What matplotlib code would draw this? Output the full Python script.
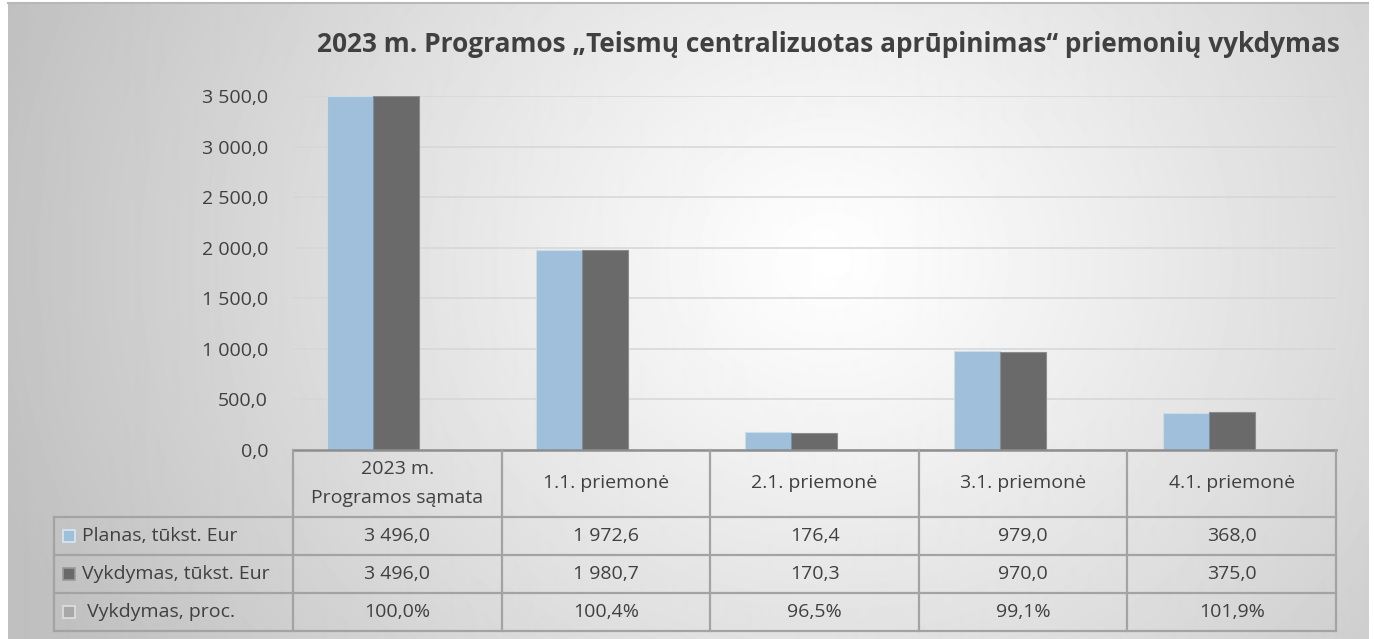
import numpy as np
import matplotlib
matplotlib.use('Agg')
import matplotlib.pyplot as plt

plt.rcParams['font.family'] = ['Open Sans', 'DejaVu Sans']

TITLE = '2023 m. Programos „Teismų centralizuotas aprūpinimas“ priemonių vykdymas'
CATEGORIES = ['2023 m.\nProgramos sąmata', '1.1. priemonė', '2.1. priemonė',
              '3.1. priemonė', '4.1. priemonė']
PLANAS = [3496.0, 1972.6, 176.4, 979.0, 368.0]
VYKDYMAS = [3496.0, 1980.7, 170.3, 970.0, 375.0]
PROC = ['100,0%', '100,4%', '96,5%', '99,1%', '101,9%']
ROW_LABELS = ['Planas, tūkst. Eur', 'Vykdymas, tūkst. Eur', ' Vykdymas, proc.']
Y_TICKS = [0, 500, 1000, 1500, 2000, 2500, 3000, 3500]

C_PLAN = '#9fbfda'
C_VYK = '#6a6a6a'
C_PROC = '#a8a8a8'
TXT = '#404040'
LINE = '#a3a3a3'
FS = 14

W, H = 1374, 639


def fmt(v):
    s = '{:,.1f}'.format(v)
    return s.replace(',', ' ').replace('.', ',')


fig = plt.figure(figsize=(W / 100, H / 100), dpi=100)
fig.patch.set_facecolor('white')

# background radial gradient of the chart area
bx0, by0, bx1, by1 = 8, 3, 1368, 639
bg = fig.add_axes([bx0 / W, 1 - by1 / H, (bx1 - bx0) / W, (by1 - by0) / H], zorder=0)
xx, yy = np.meshgrid(np.arange(bx0, bx1), np.arange(by0, by1))
d = np.hypot(xx - 830, (yy - 260) * 1.15) / 880.0
d = np.clip(d, 0, 1)
shade = 1.0 - 0.25 * d ** 1.1
bg.imshow(shade, cmap='gray', vmin=0, vmax=1, aspect='auto', interpolation='bilinear')
bg.axis('off')

# plot area
px0, px1, py0, py1 = 293, 1336, 96, 450
ax = fig.add_axes([px0 / W, 1 - py1 / H, (px1 - px0) / W, (py1 - py0) / H], zorder=1)
ax.set_facecolor('none')
x = np.arange(len(CATEGORIES))
step = 209.0
first = 373.0
ax.set_xlim((px0 - first) / step, (px1 - first) / step)
ax.set_ylim(0, 3500)
bw = 0.22
ax.bar(x - bw / 2, PLANAS, bw, color=C_PLAN, edgecolor='#c9dcec', linewidth=0.8, zorder=3)
ax.bar(x + bw / 2, VYKDYMAS, bw, color=C_VYK, edgecolor='#8c8c8c', linewidth=0.8, zorder=3)
ax.set_yticks(Y_TICKS)
ax.set_yticklabels([fmt(v) for v in Y_TICKS], fontsize=FS, color=TXT)
ax.tick_params(axis='y', length=0, pad=18)
ax.set_xticks([])
ax.grid(axis='y', color='#d6d6d6', linewidth=1.1, zorder=0)
for s in ['top', 'right', 'left', 'bottom']:
    ax.spines[s].set_visible(False)

# overlay for title + data table
ov = fig.add_axes([0, 0, 1, 1], zorder=2)
ov.set_xlim(0, W)
ov.set_ylim(H, 0)
ov.set_facecolor('none')
ov.axis('off')

ov.plot([bx0, bx1], [by0, by0], color='#b8b8b8', lw=1.5)
ov.text(828, 45, TITLE, ha='center', va='center', fontsize=18.9,
        fontweight='bold', color=TXT)

col_w = (px1 - px0) / len(CATEGORIES)
lab_x0 = 54
rows_y = [450, 517, 555, 593, 631]
# horizontal lines
ov.plot([px0, px1], [rows_y[0], rows_y[0]], color='#8e8e8e', lw=1.8)
for yv in rows_y[1:]:
    ov.plot([lab_x0, px1], [yv, yv], color=LINE, lw=1.6)
# vertical lines
ov.plot([lab_x0, lab_x0], [rows_y[1], rows_y[-1]], color=LINE, lw=1.6)
for k in range(len(CATEGORIES) + 1):
    xv = px0 + k * col_w
    ov.plot([xv, xv], [rows_y[0], rows_y[-1]], color=LINE, lw=1.6)

for k, cat in enumerate(CATEGORIES):
    cx = px0 + (k + 0.5) * col_w
    ov.text(cx, (rows_y[0] + rows_y[1]) / 2, cat, ha='center', va='center',
            fontsize=FS, color=TXT, linespacing=1.75)
    vals = [fmt(PLANAS[k]), fmt(VYKDYMAS[k]), PROC[k]]
    for r, v in enumerate(vals):
        cy = (rows_y[r + 1] + rows_y[r + 2]) / 2
        ov.text(cx, cy, v, ha='center', va='center', fontsize=FS, color=TXT)

key_colors = [(C_PLAN, '#d8e6f2'), (C_VYK, '#9a9a9a'), (C_PROC, '#e0e0e0')]
for r, lab in enumerate(ROW_LABELS):
    cy = (rows_y[r + 1] + rows_y[r + 2]) / 2
    fc, ec = key_colors[r]
    ov.add_patch(plt.Rectangle((63, cy - 6), 12, 12, facecolor=fc, edgecolor=ec, lw=1.2))
    ov.text(82, cy, lab, ha='left', va='center', fontsize=FS, color=TXT)

fig.savefig('out.png', dpi=100)
